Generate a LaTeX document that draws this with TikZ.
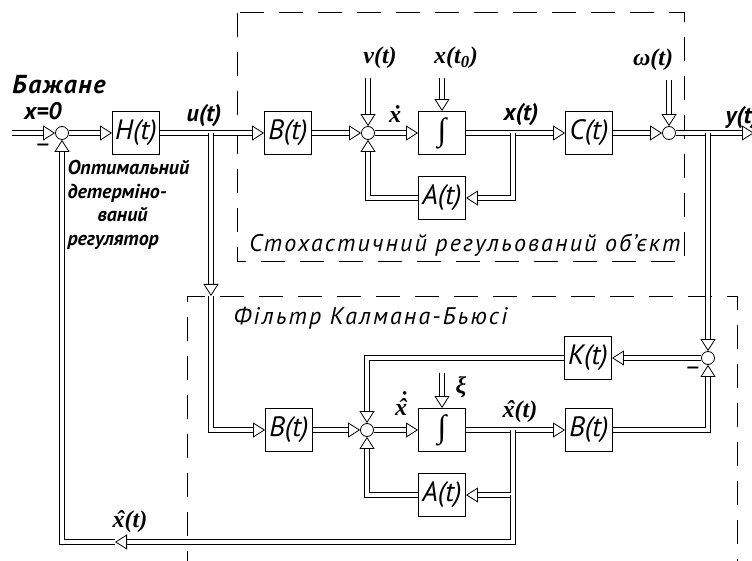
\documentclass[tikz,border=0pt]{standalone}
\usepackage{fontspec}
\setmainfont{PT Sans}
\newfontfamily\tms{Liberation Serif}
\usetikzlibrary{arrows.meta}
% nadryadkovi znaky
\newcommand{\tochx}[1]{\ooalign{#1\cr\hidewidth\kern0.12em\char"02D9\hidewidth\cr}}
\newcommand{\dahx}[1]{\ooalign{#1\cr\hidewidth\kern0.12em\char"02C6\hidewidth\cr}}
\newcommand{\tochdahx}[1]{\ooalign{#1\cr\hidewidth\kern0.12em\char"02C6\hidewidth\cr\hidewidth\kern0.2em\raisebox{0.3em}{\char"02D9}\hidewidth\cr}}
\newcommand{\integ}{{\tms\fontsize{32}{32}\selectfont ∫}}
\tikzset{
  blok/.style={draw, line width=0.9pt, minimum width=47pt, minimum height=43pt, inner sep=0pt, font=\fontsize{28}{30}\selectfont\itshape},
  sumator/.style={draw, circle, line width=0.8pt, minimum size=13pt, inner sep=0pt},
  dvi/.style={draw, double=white, double distance=4.5pt, line width=0.8pt},
  strilka/.style={dvi, -{Triangle[open, length=12pt, width=15pt]}},
  ramka/.style={line width=1pt, dash pattern=on 24pt off 15pt},
  napys/.style={font=\fontsize{24}{26}\selectfont\itshape\addfontfeatures{LetterSpace=9}},
  pidpys/.style={font=\fontsize{20}{23.5}\selectfont\bfseries\itshape},
  minus/.style={font=\fontsize{26}{26}\selectfont, inner sep=0pt},
  syg/.style={font=\fontsize{24}{26}\selectfont\bfseries\itshape},
  sygt/.style={font=\tms\fontsize{24}{26}\selectfont\bfseries\itshape},
}
\begin{document}
\begin{tikzpicture}[x=1pt, y=-1pt]
    \useasboundingbox (0,0) rectangle (752,561);
    % ramky
    \draw[ramka] (237,13) rectangle (684,262);
    \draw[ramka] (187,575) -- (187,296) -- (737,296) -- (737,575);
    \node[napys] (obj) at (465,245) {Стохастичний регульований об’єкт};
    \node[napys, anchor=west] (filtr) at (230,318) {Фільтр Калмана-Бьюсі};
    % regulyator
    \coordinate (vhid) at (12,133);
    \node[sumator] (s1) at (62,133) {};
    \node[blok] (H) at (136,133) {H(t)};
    \node[pidpys, font=\fontsize{26}{28}\selectfont\bfseries\itshape\addfontfeatures{LetterSpace=6}] (bazh) at (59,85) {Бажане};
    \node[syg] (nul) at (43,111) {x=0};
    \node[minus] (m1) at (43,148) {–};
    \node[pidpys, anchor=north west, align=left] (opt) at (64,157)
        {Оптимальний\\детерміно-\\\hspace*{30pt}ваний\\регулятор};
    % ob'ekt
    \node[blok] (B1) at (288,133) {B(t)};
    \node[sumator] (s2) at (368,133) {};
    \node[blok] (I1) at (442,133) {\integ};
    \node[blok] (A1) at (442,198) {A(t)};
    \node[blok] (C) at (589,133) {C(t)};
    \node[sumator] (s3) at (669,133) {};
    \coordinate (vyhid) at (754,133);
    \coordinate (vt) at (368,78);
    \coordinate (xt0) at (442,78);
    \coordinate (wt) at (669,80);
    \node[sygt] (lv) at (380,58) {v(t)};
    \node[sygt] (lx0) at (456,58) {x(t\textsubscript{0})};
    \node[sygt] (lw) at (653,60) {ω(t)};
    \node[sygt] (ldx) at (395,117) {\tochx{x}};
    \node[syg] (lu) at (204,116) {u(t)};
    \node[syg] (lx) at (521,115) {x(t)};
    \node[syg, anchor=west] (ly) at (722,118) {y(t)};
    % fil'tr
    \node[blok] (B2) at (289,430) {B(t)};
    \node[sumator] (s5) at (367,430) {};
    \node[blok] (I2) at (442,430) {\integ};
    \node[blok] (A2) at (442,495) {A(t)};
    \node[blok] (B3) at (589,430) {B(t)};
    \node[blok] (K) at (588,358) {K(t)};
    \node[sumator] (s4) at (708,358) {};
    \node[minus] (m4) at (693,371) {–};
    \coordinate (ksi) at (442,373);
    \node[sygt] (lksi) at (461,387) {ξ};
    \node[sygt] (ldxh) at (401,410) {\tochdahx{x}};
    \node[sygt] (lxh) at (520,412) {\dahx{x}(t)};
    \node[sygt] (lxh2) at (130,522) {\dahx{x}(t)};
    % vuzly
    \coordinate (u1) at (211,133);
    \coordinate (u2) at (211,296);
    \coordinate (x1) at (513,133);
    \coordinate (y1) at (708,133);
    \coordinate (xh1) at (513,430);
    \coordinate (xh2) at (513,495);
    \coordinate (zz) at (115,542);
    % zv'yazky verkh
    \draw[strilka] (vhid) -- (s1);
    \draw[strilka] (s1) -- (H);
    \draw[strilka] (H) -- (B1);
    \draw[strilka] (B1) -- (s2);
    \draw[strilka] (s2) -- (I1);
    \draw[strilka] (I1) -- (C);
    \draw[strilka] (C) -- (s3);
    \draw[strilka] (s3) -- (vyhid);
    \draw[strilka] (vt) -- (s2);
    \draw[strilka] (xt0) -- (I1);
    \draw[strilka] (wt) -- (s3);
    \draw[strilka] (x1) |- (A1);
    \draw[strilka] (A1) -| (s2);
    \draw[strilka] (u1) -- (u2);
    \draw[strilka] (u2) |- (B2);
    \draw[strilka] (y1) -- (s4);
    % zv'yazky nyz
    \draw[strilka] (B2) -- (s5);
    \draw[strilka] (s5) -- (I2);
    \draw[strilka] (I2) -- (B3);
    \draw[strilka] (ksi) -- (I2);
    \draw[strilka] (B3) -| (s4);
    \draw[strilka] (s4) -- (K);
    \draw[strilka] (K) -| (s5);
    \draw[strilka] (xh1) |- (A2);
    \draw[strilka] (A2) -| (s5);
    \draw[strilka] (xh2) |- (zz);
    \draw[strilka] (zz) -| (s1);
\end{tikzpicture}
\end{document}
